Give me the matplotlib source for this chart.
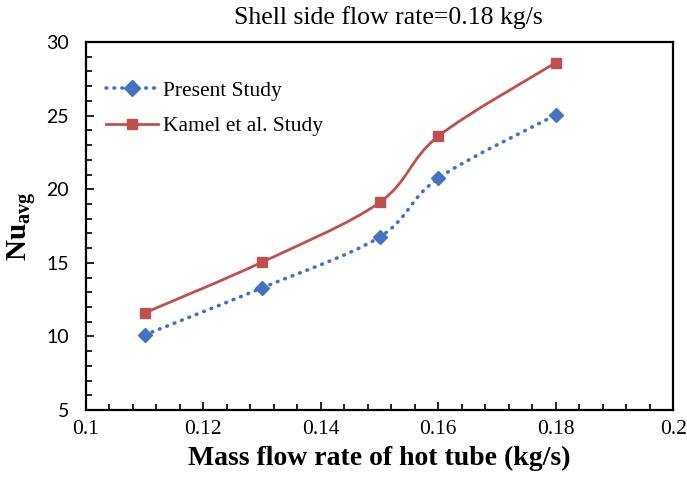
import numpy as np
import matplotlib
matplotlib.use("Agg")
import matplotlib.pyplot as plt
from matplotlib.path import Path
from matplotlib.patches import PathPatch
from matplotlib.ticker import MultipleLocator

# data
mass_flow = [0.11, 0.13, 0.15, 0.16, 0.18]
nu_present = [10.1, 13.3, 16.75, 20.75, 25.05]
nu_kamel = [11.6, 15.05, 19.1, 23.6, 28.6]
x_tick_labels = ["0.1", "0.12", "0.14", "0.16", "0.18", "0.2"]

BLUE = "#4472C4"
RED = "#C0504D"

plt.rcParams["font.family"] = ["Liberation Serif", "DejaVu Serif"]
plt.rcParams["mathtext.fontset"] = "custom"
plt.rcParams["mathtext.rm"] = "Liberation Serif"
plt.rcParams["mathtext.bf"] = "Liberation Serif:bold"
plt.rcParams["mathtext.it"] = "Liberation Serif:italic"

DOTS = (0, (0.2, 2.0))


def smooth_path(x, y):
    # Excel-style smoothed line: Catmull-Rom segments as cubic Beziers
    pts = np.column_stack([x, y]).astype(float)
    verts = [pts[0]]
    codes = [Path.MOVETO]
    n = len(pts)
    for i in range(n - 1):
        p0 = pts[i - 1] if i > 0 else pts[i]
        p1 = pts[i]
        p2 = pts[i + 1]
        p3 = pts[i + 2] if i + 2 < n else pts[i + 1]
        c1 = p1 + (p2 - p0) / 6.0
        c2 = p2 - (p3 - p1) / 6.0
        verts += [c1, c2, p2]
        codes += [Path.CURVE4] * 3
    return Path(verts, codes)


fig = plt.figure(figsize=(6.87, 4.83), dpi=100)
ax = fig.add_axes([0.125, 0.151, 0.855, 0.762])

ax.add_patch(PathPatch(smooth_path(mass_flow, nu_present), fill=False,
                       edgecolor=BLUE, lw=2.6, linestyle=DOTS,
                       capstyle="round"))
ax.add_patch(PathPatch(smooth_path(mass_flow, nu_kamel), fill=False,
                       edgecolor=RED, lw=2.0))

ax.plot(mass_flow, nu_present, linestyle="none", marker="D", ms=7,
        color=BLUE)
ax.plot(mass_flow, nu_kamel, linestyle="none", marker="s", ms=7,
        color=RED)

# legend proxies
ax.plot([], [], color=BLUE, lw=2.6, linestyle=DOTS, marker="D",
        ms=8, dash_capstyle="round", label="Present Study")
ax.plot([], [], color=RED, lw=2.0, marker="s", ms=7,
        label="Kamel et al. Study")
ax.legend(loc="upper left", frameon=False, fontsize=15.5,
          bbox_to_anchor=(0.034, 0.895), borderpad=0, borderaxespad=0,
          handlelength=2.4, handletextpad=0.25, labelspacing=0.72)

ax.set_xlim(0.1, 0.2)
ax.set_ylim(5, 30)
ax.xaxis.set_minor_locator(MultipleLocator(0.004))
ax.yaxis.set_major_locator(MultipleLocator(5))
ax.yaxis.set_minor_locator(MultipleLocator(1))
ax.set_xticks(np.arange(0.1, 0.2001, 0.02))
ax.set_xticklabels(x_tick_labels)

ax.tick_params(which="both", direction="in", top=False, right=False,
               width=1.2)
ax.tick_params(which="major", length=6)
ax.tick_params(which="minor", length=4)
ax.tick_params(axis="x", labelsize=15.5, pad=7)
ax.tick_params(axis="y", labelsize=14, pad=12)
for lab in ax.get_yticklabels():
    lab.set_fontfamily("Lato")
for s in ax.spines.values():
    s.set_linewidth(1.6)

ax.set_xlabel("Mass flow rate of hot tube (kg/s)", fontsize=20,
              fontweight="bold", labelpad=5)
ax.set_ylabel(r"$\mathbf{Nu_{avg}}$", fontsize=21, labelpad=6)
ax.set_title("Shell side flow rate=0.18 kg/s", fontsize=18.5, pad=13,
             x=0.515)

fig.savefig("out.png", dpi=100)
